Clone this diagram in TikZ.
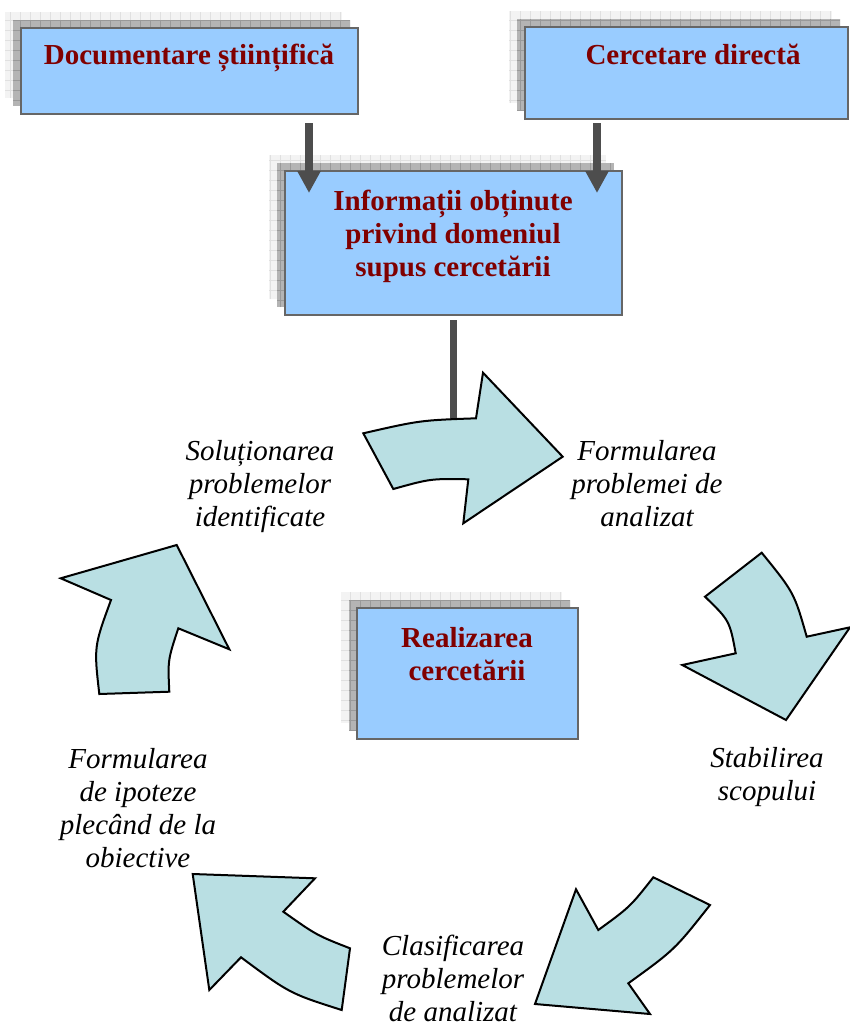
\documentclass[tikz,border=0pt]{standalone}
\usepackage{fontspec}
\setmainfont{Liberation Serif}
\usetikzlibrary{calc,arrows.meta}
\definecolor{boxfill}{HTML}{99CCFF}
\definecolor{boxline}{HTML}{666666}
\definecolor{boxtext}{HTML}{800000}
\definecolor{arrfill}{HTML}{B9DFE3}
\definecolor{darkarr}{HTML}{4D4D4D}
\definecolor{shdark}{HTML}{B4B4B4}
\definecolor{shdarkgrid}{HTML}{999999}
\definecolor{shlight}{HTML}{F3F3F3}
\definecolor{shlightgrid}{HTML}{E0E0E0}
\tikzset{
 box/.style={draw=boxline, line width=2.5pt, fill=boxfill, inner sep=0pt, outer sep=0pt, anchor=north west},
 boxlabel/.style={font=\fontsize{29}{33}\selectfont\bfseries, text=boxtext, align=center, anchor=base, inner sep=0pt},
 steplabel/.style={font=\fontsize{29}{33}\selectfont\itshape, align=center, anchor=base, inner sep=0pt},
 cyclearrow/.style={draw=black, line width=2pt, fill=arrfill, line join=miter},
 feedarrow/.style={draw=darkarr, line width=7.5pt, -{Triangle[width=22pt,length=22pt]}},
 feedline/.style={draw=darkarr, line width=7pt},
}
\newcommand\shadedbox[5]{%
 \foreach \off/\sh/\sg in {16/shlight/shlightgrid,8/shdark/shdarkgrid}{%
  \begin{scope}
   \clip (#2-\off,#3-\off) rectangle (#2-\off+#4,#3-\off+#5);
   \fill[\sh] (#2-\off,#3-\off) rectangle (#2-\off+#4,#3-\off+#5);
   \draw[\sg,step=10pt,line width=0.8pt] (#2-\off,#3-\off) grid (#2-\off+#4,#3-\off+#5);
  \end{scope}}%
 \node[box, minimum width=#4pt, minimum height=#5pt] (#1) at (#2,#3) {};%
}
\begin{document}
\begin{tikzpicture}[x=1pt,y=-1pt]
\fill[white] (0,0) rectangle (850,1025);
\useasboundingbox (0,0) rectangle (850,1025);

% boxes
\shadedbox{b1}{21}{28}{337}{86}
\shadedbox{b2}{525}{27}{323}{92}
\shadedbox{b3}{285}{171}{337}{144}
\shadedbox{b4}{357}{608}{221}{131}

% labels (anchor=base is the baseline of the last line)
\node[boxlabel] (t1) at (189,65) {Documentare științifică};
\node[boxlabel] (t2) at (693,65) {Cercetare directă};
\node[boxlabel] (t3) at (453,276) {Informații obținute\\privind domeniul\\supus cercetării};
\node[boxlabel] (t4) at (467,680) {Realizarea\\cercetării};

% feed arrows
\coordinate (f1) at (309,193);
\coordinate (f2) at (597,193);
\draw[feedarrow] ($(b1.south -| f1)+(0,9)$) -- (f1);
\draw[feedarrow] ($(b2.south -| f2)+(0,4)$) -- (f2);
\coordinate (a1top) at (453.5,426);
\draw[feedline] ($(b3.south)+(0,5)$) -- (a1top);

% cycle arrows
\draw[cyclearrow] (363.3,433.3) .. controls (420.1,420.3) .. (476,418.3)
  -- (483,372.7) -- (562.7,456.7) -- (463.3,523.3) -- (468.3,479.3)
  .. controls (430.7,478.6) .. (393.3,489) -- cycle;
\draw[cyclearrow] (761.7,552.7) -- (705,596.7)
  .. controls (729.6,620.6) .. (735.7,653.3)
  -- (682.3,665) -- (786,720) -- (850,627.3) -- (806.7,636.7)
  .. controls (794.2,592.8) .. (761.7,552.7) -- cycle;
\draw[cyclearrow] (710,905) -- (653.3,877.3)
  .. controls (630.1,906.8) .. (598.3,930)
  -- (576,889.3) -- (535,1004) -- (650,1014) -- (628.3,983.3)
  .. controls (674.7,949.7) .. (710,905) -- cycle;
\draw[cyclearrow] (350,948.3) .. controls (316.7,935.3) .. (283.3,911.7)
  -- (315,878.3) -- (192.7,874) -- (209.3,990) -- (241,957.3)
  .. controls (289.6,993.4) .. (341.7,1010) -- cycle;
\draw[cyclearrow] (99.3,694) -- (169.3,691.7)
  .. controls (167.8,660) .. (178.3,628.3)
  -- (229.3,649.3) -- (176.7,545) -- (60.7,578.3) -- (111,600)
  .. controls (93.9,646.6) .. (99.3,694) -- cycle;

% step labels
\node[steplabel] (s1) at (260,526) {Soluționarea\\problemelor\\identificate};
\node[steplabel] (s2) at (647,526) {Formularea\\problemei de\\analizat};
\node[steplabel] (s3) at (767,800) {Stabilirea\\scopului};
\node[steplabel] (s4) at (453,1021) {Clasificarea\\problemelor\\de analizat};
\node[steplabel] (s5) at (138,867) {Formularea\\de ipoteze\\plecând de la\\obiective};
\end{tikzpicture}
\end{document}
